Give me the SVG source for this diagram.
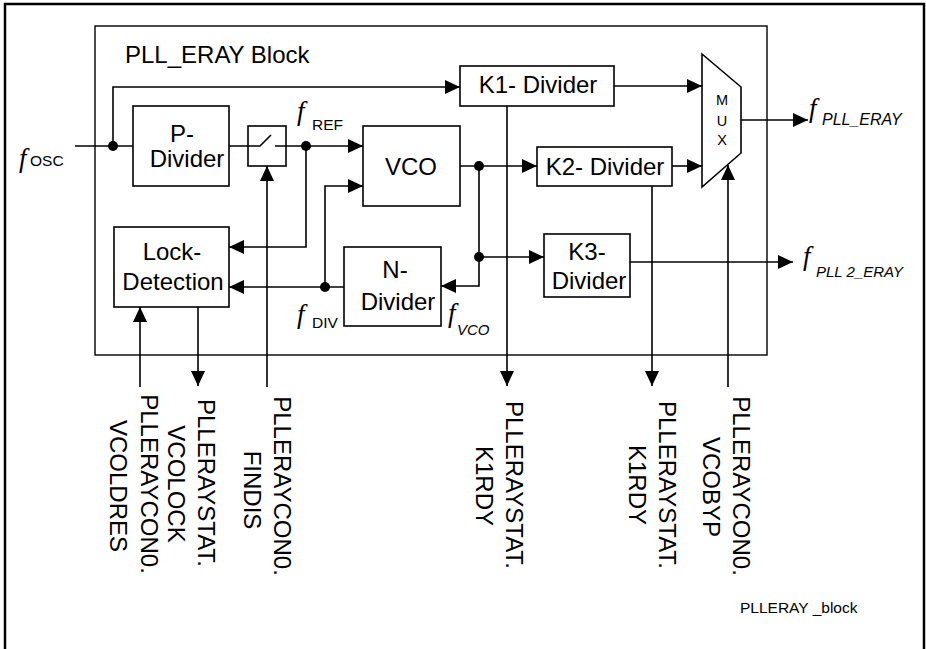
<svg xmlns="http://www.w3.org/2000/svg" width="926" height="649" viewBox="0 0 926 649">
<style>
.box{fill:#fff;stroke:#000;stroke-width:1.6}
.ln{fill:none;stroke:#000;stroke-width:1.6}
.arr{fill:none;stroke:#000;stroke-width:1.6;marker-end:url(#ah)}
.t{font-family:"Liberation Sans",Arial,sans-serif;font-size:24px;fill:#000}
.tm{text-anchor:middle}
.f{font-family:"Liberation Serif","Times New Roman",serif;font-style:italic;font-size:27px;fill:#000}
.s{font-family:"Liberation Sans",Arial,sans-serif;font-size:15.5px;fill:#000}
.si{font-family:"Liberation Sans",Arial,sans-serif;font-size:16px;font-style:italic;fill:#000}
.mx{font-family:"Liberation Sans",Arial,sans-serif;font-size:14.5px;fill:#000;text-anchor:middle}
.dot{fill:#000}
</style>
<defs>
<marker id="ah" markerUnits="userSpaceOnUse" markerWidth="16" markerHeight="15" refX="15" refY="7" orient="auto">
<path d="M0,0 L15,7 L0,14 z" fill="#000"/>
</marker>
</defs>
<rect width="926" height="649" fill="#fff"/>
<path d="M5,652 V4 H924 V652" fill="none" stroke="#000" stroke-width="2.5"/>
<g id="block">
<rect x="95" y="26" width="672" height="329" fill="none" stroke="#000" stroke-width="1.4"/>
<text class="t" x="125" y="63">PLL_ERAY Block</text>
</g>
<g id="connectors">
<path class="ln" d="M75,146 H133"/>
<path class="arr" d="M113,146 V87 H460"/>
<path class="ln" d="M229,146 H260 L271,135"/>
<path class="arr" d="M275,146 H363"/>
<path class="arr" d="M267,387 V166"/>
<path class="arr" d="M306,146 V247 H229"/>
<path class="arr" d="M344,287 H229"/>
<path class="arr" d="M325,287 V186 H363"/>
<path class="arr" d="M460,166 H537"/>
<path class="arr" d="M479,166 V286 H441"/>
<path class="arr" d="M479,257 H544"/>
<path class="arr" d="M614,86 H702"/>
<path class="arr" d="M672,166 H702"/>
<path class="arr" d="M741,120 H808"/>
<path class="arr" d="M630,262 H793"/>
<path class="arr" d="M507,106 V386"/>
<path class="arr" d="M652,186 V386"/>
<path class="arr" d="M728,387 V165"/>
<path class="arr" d="M140,387 V307"/>
<path class="arr" d="M198,307 V386"/>
<circle class="dot" cx="113" cy="146" r="5"/>
<circle class="dot" cx="306" cy="146" r="5"/>
<circle class="dot" cx="325" cy="287" r="5"/>
<circle class="dot" cx="479" cy="166" r="5"/>
<circle class="dot" cx="479" cy="257" r="5"/>
</g>
<g id="p-divider">
<rect class="box" x="133" y="106" width="96" height="80"/>
<text class="t tm" x="182" y="142">P-</text>
<text class="t tm" x="187" y="167">Divider</text>
</g>
<g id="switch">
<rect x="248" y="126" width="38" height="40" fill="none" stroke="#000" stroke-width="1.6"/>
</g>
<g id="vco">
<rect class="box" x="363" y="126" width="97" height="80"/>
<text class="t tm" x="411" y="175">VCO</text>
</g>
<g id="lock-detection">
<rect class="box" x="114" y="227" width="115" height="80"/>
<text class="t tm" x="172" y="260">Lock-</text>
<text class="t tm" x="173" y="290">Detection</text>
</g>
<g id="n-divider">
<rect class="box" x="344" y="247" width="97" height="79"/>
<text class="t tm" x="395" y="278">N-</text>
<text class="t tm" x="398" y="310">Divider</text>
</g>
<g id="k1-divider">
<rect class="box" x="460" y="66" width="154" height="40"/>
<text class="t tm" x="538" y="93">K1- Divider</text>
</g>
<g id="k2-divider">
<rect class="box" x="537" y="147" width="135" height="39"/>
<text class="t tm" x="605" y="175">K2- Divider</text>
</g>
<g id="k3-divider">
<rect class="box" x="544" y="234" width="86" height="63"/>
<text class="t tm" x="587" y="260">K3-</text>
<text class="t tm" x="589" y="289">Divider</text>
</g>
<g id="mux">
<path d="M702,54 L741,87 V153 L702,187 Z" fill="#fff" stroke="#000" stroke-width="1.6"/>
<text class="mx" x="722" y="105">M</text>
<text class="mx" x="722" y="126">U</text>
<text class="mx" x="722" y="145">X</text>
</g>
<g id="freq-labels">
<text class="f" x="19" y="167">f</text><text class="s" x="30" y="166">OSC</text>
<text class="f" x="297" y="120">f</text><text class="s" x="312" y="130">REF</text>
<text class="f" x="297" y="323">f</text><text class="s" x="312" y="328">DIV</text>
<text class="f" x="448" y="322">f</text><text class="si" x="457" y="335" style="font-size:15px">VCO</text>
<text class="f" x="809" y="117">f</text><text class="si" x="822" y="125">PLL_ERAY</text>
<text class="f" x="803" y="265">f</text><text class="si" x="816" y="277" style="font-size:15px">PLL 2_ERAY</text>
</g>
<g id="signal-labels">
<text class="t tm" transform="translate(141,484) rotate(90)">PLLERAYCON0.</text>
<text class="t tm" transform="translate(110,486) rotate(90)">VCOLDRES</text>
<text class="t tm" transform="translate(198,483) rotate(90)">PLLERAYSTAT.</text>
<text class="t tm" transform="translate(168,484) rotate(90)">VCOLOCK</text>
<text class="t tm" transform="translate(274,486) rotate(90)">PLLERAYCON0.</text>
<text class="t tm" transform="translate(244,490) rotate(90)">FINDIS</text>
<text class="t tm" transform="translate(506,485) rotate(90)">PLLERAYSTAT.</text>
<text class="t tm" transform="translate(476,486) rotate(90)">K1RDY</text>
<text class="t tm" transform="translate(659,485) rotate(90)">PLLERAYSTAT.</text>
<text class="t tm" transform="translate(629,485) rotate(90)">K1RDY</text>
<text class="t tm" transform="translate(733,486) rotate(90)">PLLERAYCON0.</text>
<text class="t tm" transform="translate(703,487) rotate(90)">VCOBYP</text>
</g>
<text x="740" y="613" style="font-family:'Liberation Sans',Arial,sans-serif;font-size:15.5px">PLLERAY _block</text>
</svg>
